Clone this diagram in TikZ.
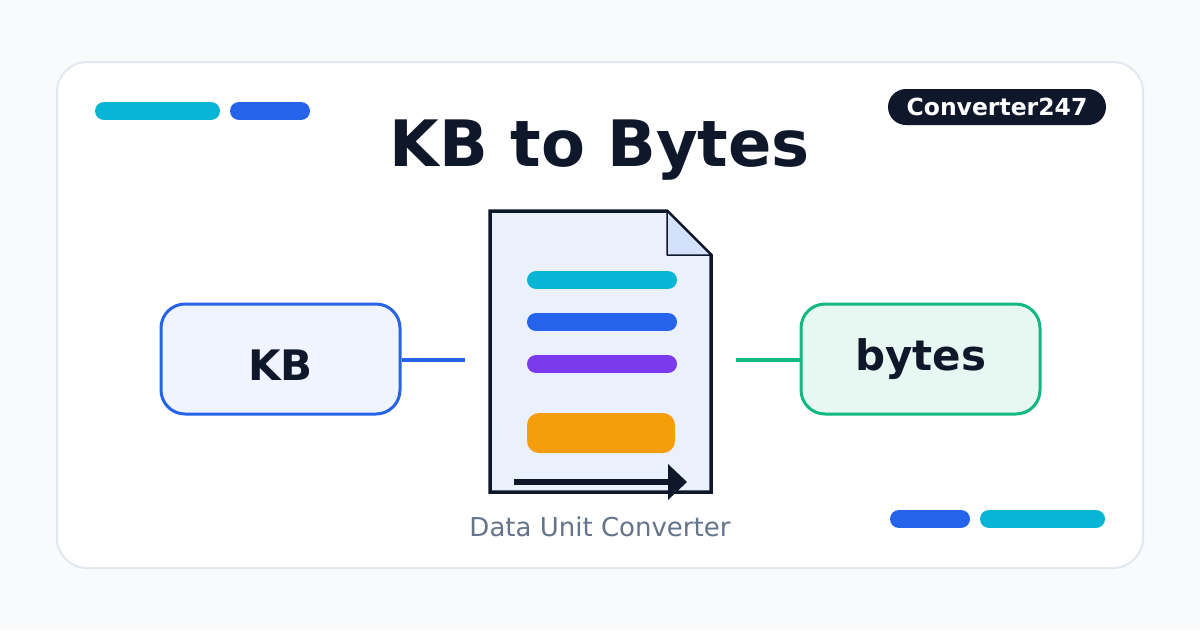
\documentclass[tikz,border=0pt]{standalone}
\usepackage{fontspec}
\setmainfont{DejaVu Sans}
\usetikzlibrary{positioning}
\definecolor{ink}{HTML}{0F172A}
\definecolor{cyanbar}{HTML}{06B6D4}
\definecolor{bluebar}{HTML}{2563EB}
\definecolor{purplebar}{HTML}{7C3AED}
\definecolor{orangebar}{HTML}{F59E0B}
\definecolor{greenline}{HTML}{10B981}
\definecolor{cardline}{HTML}{E2E8F0}
\definecolor{pagebg}{HTML}{F8FAFC}
\definecolor{docfill}{HTML}{EAF1FD}
\definecolor{foldfill}{HTML}{D3E2FA}
\definecolor{captiongray}{HTML}{64748B}
\begin{document}
\begin{tikzpicture}[x=1pt,y=-1pt]
\tikzstyle{bar} = [line width=18pt,line cap=round]
\tikzstyle{unitbox} = [draw,line width=3pt,rounded corners=24pt,minimum width=239pt,minimum height=110pt,font=\bfseries\fontsize{42}{42}\selectfont,text=ink]

\fill[pagebg] (0,0) rectangle (1200,630);
\draw[cardline,fill=white,line width=2pt,rounded corners=30pt] (57,62) rectangle (1143,568);

% pills
\draw[bar,cyanbar] (104,111) -- (211,111);
\draw[bar,bluebar] (239,111) -- (301,111);
\draw[bar,bluebar] (899,519) -- (961,519);
\draw[bar,cyanbar] (989,519) -- (1096,519);

\node[fill=ink,rounded corners=18pt,minimum width=218pt,minimum height=36pt,text=white,font=\bfseries\fontsize{23.5}{23.5}\selectfont] (badge) at (997,107) {Converter247};
\node[text=ink,font=\bfseries\fontsize{64}{64}\selectfont] (title) at (600,150) {KB to Bytes};

% document
\coordinate (doctl) at (490,211);
\coordinate (docbr) at (711,492);
\draw[ink,fill=docfill,line width=3.5pt] (doctl) -- (667,211) -- (711,255) -- (docbr) -- (490,492) -- cycle;
\draw[ink,fill=foldfill,line width=1.5pt,line join=round] (667,211) -- (667,255) -- (711,255) -- cycle;
\draw[bar,cyanbar] (536,280) -- (668,280);
\draw[bar,bluebar] (536,322) -- (668,322);
\draw[bar,purplebar] (536,364) -- (668,364);
\fill[orangebar,rounded corners=12pt] (527,413) rectangle (675,453);
\draw[ink,line width=6pt] (514,482) -- (672,482);
\fill[ink] (668,464) -- (687,482) -- (668,500) -- cycle;
\coordinate (docin) at (465,360);
\coordinate (docout) at (736,360);

\node[unitbox,draw=bluebar,fill=bluebar!7,text height=42pt,text depth=0pt] (kb) at (280.5,359) {KB};
\node[unitbox,draw=greenline,fill=greenline!10] (bytes) at (920.5,359) {bytes};
\draw[bluebar,line width=4pt] (kb.east |- docin) -- (docin);
\draw[greenline,line width=4pt] (docout) -- (bytes.west |- docout);

\node[text=captiongray,font=\fontsize{26}{26}\selectfont] (caption) at (600,527) {Data Unit Converter};
\end{tikzpicture}
\end{document}
